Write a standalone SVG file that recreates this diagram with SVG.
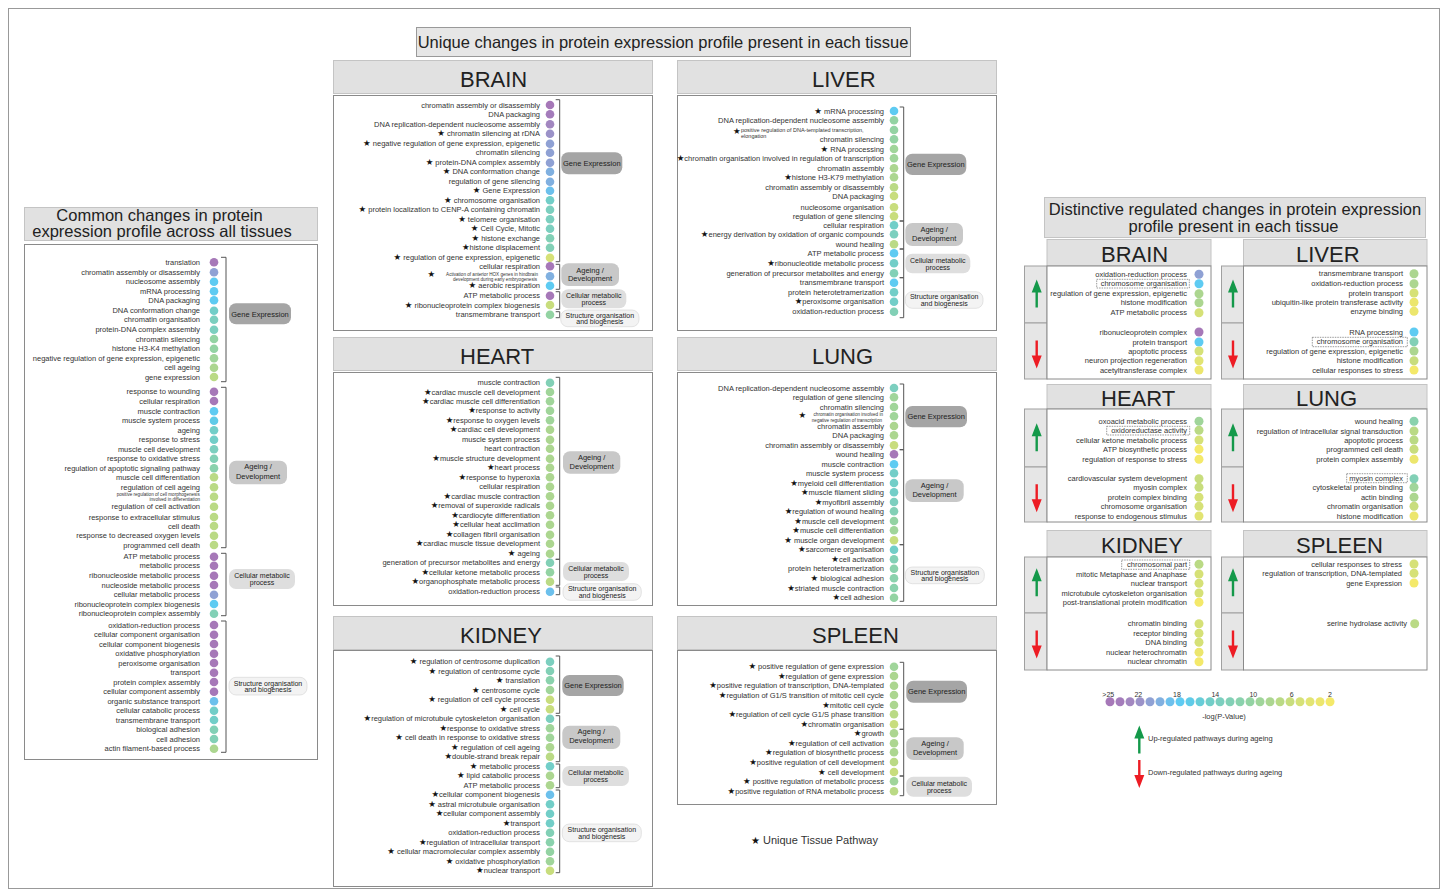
<svg xmlns="http://www.w3.org/2000/svg" width="1447" height="896" viewBox="0 0 1447 896">
<defs>
<style>
.t{font-family:"Liberation Sans",Arial,sans-serif;font-size:7.5px;fill:#333;text-anchor:end}
.sm{font-size:4.6px}
.sm6{font-size:5.5px;text-anchor:start}
.st{font-family:"DejaVu Sans",sans-serif;font-size:8.5px;fill:#111}
.pl{font-family:"Liberation Sans",Arial,sans-serif;font-size:7.5px;fill:#222;text-anchor:middle}
.p7{font-size:7px}
.hd{font-family:"Liberation Sans",Arial,sans-serif;font-size:22px;fill:#222}
.ti{font-family:"Liberation Sans",Arial,sans-serif;font-size:16.5px;fill:#222;text-anchor:middle}
.lg{font-family:"Liberation Sans",Arial,sans-serif;font-size:7.5px;fill:#333}
.hbox{fill:#e1e1e1;stroke:#c4c4c4}
.panel{fill:#fff;stroke:#8a8a8a}
.gcol{fill:#e6e6e6;stroke:#a0a0a0}
.br{fill:none;stroke:#555;stroke-width:1}
.p1{fill:#a5a5a5}.p2{fill:#c8c8c8}.p3{fill:#dedede}.p4{fill:#f3f3f3;stroke:#d4d4d4;stroke-width:0.6}
.dash{fill:none;stroke:#555;stroke-width:0.6;stroke-dasharray:1.5 1}
.up{fill:#14994a}.dn{fill:#ed1c24}
.c1{fill:#a678b8}.c2{fill:#a47cbb}.c3{fill:#a287c0}.c4{fill:#9b92c8}.c5{fill:#8fa1d4}.c6{fill:#80b0e0}.c7{fill:#6cc0ec}.c8{fill:#5ecbf2}.c9{fill:#5fcbe8}.c10{fill:#67cdd8}.c11{fill:#72cec8}.c12{fill:#7ccfbf}.c13{fill:#82d0b6}.c14{fill:#8ad2ad}.c15{fill:#93d3a3}.c16{fill:#a0d59a}.c17{fill:#acd690}.c18{fill:#bada85}.c19{fill:#c8dd7d}.c20{fill:#d6e177}.c21{fill:#e2e472}.c22{fill:#ece66d}.c23{fill:#f4e96a}
</style>
<path id="aup" d="M0,0 L5,13 L1.2,13 L1.2,28 L-1.2,28 L-1.2,13 L-5,13Z"/>
<path id="adn" d="M0,28 L5,15 L1.2,15 L1.2,0 L-1.2,0 L-1.2,15 L-5,15Z"/>
</defs>
<rect x="0" y="0" width="1447" height="896" fill="#fff"/>
<rect x="8.5" y="8.5" width="1431" height="880" fill="none" stroke="#999"/>

<g id="title-unique">
<rect x="416.5" y="27.5" width="494" height="29" fill="#e6e6e6" stroke="#999"/>
<text class="ti" x="663" y="48">Unique changes in protein expression profile present in each tissue</text>
</g>

<g id="common">
<rect class="hbox" x="24.5" y="207.5" width="293" height="33"/>
<text class="ti" x="159.5" y="221">Common changes in protein</text>
<text class="ti" x="162" y="237">expression profile across all tissues</text>
<rect class="panel" x="24.5" y="244.5" width="293" height="515"/>
<g>
<text class="t" x="200" y="265">translation</text><circle class="c1" cx="214" cy="262.3" r="4.3"/>
<text class="t" x="200" y="275">chromatin assembly or disassembly</text><circle class="c5" cx="214" cy="272.3" r="4.3"/>
<text class="t" x="200" y="284.4">nucleosome assembly</text><circle class="c8" cx="214" cy="281.7" r="4.3"/>
<text class="t" x="200" y="294">mRNA processing</text><circle class="c8" cx="214" cy="291.3" r="4.3"/>
<text class="t" x="200" y="303">DNA packaging</text><circle class="c8" cx="214" cy="300.3" r="4.3"/>
<text class="t" x="200" y="313.4">DNA conformation change</text><circle class="c11" cx="214" cy="310.7" r="4.3"/>
<text class="t" x="200" y="322.4">chromatin organisation</text><circle class="c12" cx="214" cy="319.7" r="4.3"/>
<text class="t" x="200" y="332.4">protein-DNA complex assembly</text><circle class="c12" cx="214" cy="329.7" r="4.3"/>
<text class="t" x="200" y="341.7">chromatin silencing</text><circle class="c15" cx="214" cy="339" r="4.3"/>
<text class="t" x="200" y="351.4">histone H3-K4 methylation</text><circle class="c15" cx="214" cy="348.7" r="4.3"/>
<text class="t" x="200" y="361">negative regulation of gene expression, epigenetic</text><circle class="c16" cx="214" cy="358.3" r="4.3"/>
<text class="t" x="200" y="370.4">cell ageing</text><circle class="c17" cx="214" cy="367.7" r="4.3"/>
<text class="t" x="200" y="379.7">gene expression</text><circle class="c18" cx="214" cy="377" r="4.3"/>
<text class="t" x="200" y="394.4">response to wounding</text><circle class="c1" cx="214" cy="391.7" r="4.3"/>
<text class="t" x="200" y="403.7">cellular respiration</text><circle class="c1" cx="214" cy="401" r="4.3"/>
<text class="t" x="200" y="414">muscle contraction</text><circle class="c8" cx="214" cy="411.3" r="4.3"/>
<text class="t" x="200" y="423.4">muscle system process</text><circle class="c9" cx="214" cy="420.7" r="4.3"/>
<text class="t" x="200" y="433">ageing</text><circle class="c11" cx="214" cy="430.3" r="4.3"/>
<text class="t" x="200" y="442.4">response to stress</text><circle class="c11" cx="214" cy="439.7" r="4.3"/>
<text class="t" x="200" y="452">muscle cell development</text><circle class="c12" cx="214" cy="449.3" r="4.3"/>
<text class="t" x="200" y="461.4">response to oxidative stress</text><circle class="c13" cx="214" cy="458.7" r="4.3"/>
<text class="t" x="200" y="471">regulation of apoptotic signaling pathway</text><circle class="c14" cx="214" cy="468.3" r="4.3"/>
<text class="t" x="200" y="480">muscle cell differentiation</text><circle class="c18" cx="214" cy="477.3" r="4.3"/>
<text class="t" x="200" y="490">regulation of cell ageing</text><circle class="c18" cx="214" cy="487.3" r="4.3"/>
<text class="t sm" x="199.7" y="495.8">positive regulation of cell morphogenesis</text>
<text class="t sm" x="200" y="501.4">involved in differentiation</text><circle class="c18" cx="214" cy="496.7" r="4.3"/>
<text class="t" x="200" y="509.4">regulation of cell activation</text><circle class="c18" cx="214" cy="506.7" r="4.3"/>
<text class="t" x="200" y="519.7">response to extracellular stimulus</text><circle class="c18" cx="214" cy="517" r="4.3"/>
<text class="t" x="200" y="528.7">cell death</text><circle class="c18" cx="214" cy="526" r="4.3"/>
<text class="t" x="200" y="538.4">response to decreased oxygen levels</text><circle class="c18" cx="214" cy="535.7" r="4.3"/>
<text class="t" x="200" y="547.7">programmed cell death</text><circle class="c18" cx="214" cy="545" r="4.3"/>
<text class="t" x="200" y="559.4">ATP metabolic process</text><circle class="c1" cx="214" cy="556.7" r="4.3"/>
<text class="t" x="200" y="568.4">metabolic process</text><circle class="c1" cx="214" cy="565.7" r="4.3"/>
<text class="t" x="200" y="578.4">ribonucleoside metabolic process</text><circle class="c1" cx="214" cy="575.7" r="4.3"/>
<text class="t" x="200" y="587.7">nucleoside metabolic process</text><circle class="c1" cx="214" cy="585" r="4.3"/>
<text class="t" x="200" y="597.4">cellular metabolic process</text><circle class="c5" cx="214" cy="594.7" r="4.3"/>
<text class="t" x="200" y="606.7">ribonucleoprotein complex biogenesis</text><circle class="c8" cx="214" cy="604" r="4.3"/>
<text class="t" x="200" y="616.4">ribonucleoprotein complex assembly</text><circle class="c13" cx="214" cy="613.7" r="4.3"/>
<text class="t" x="200" y="627.7">oxidation-reduction process</text><circle class="c1" cx="214" cy="625" r="4.3"/>
<text class="t" x="200" y="637.4">cellular component organisation</text><circle class="c1" cx="214" cy="634.7" r="4.3"/>
<text class="t" x="200" y="646.7">cellular component biogenesis</text><circle class="c1" cx="214" cy="644" r="4.3"/>
<text class="t" x="200" y="656.4">oxidative phosphorylation</text><circle class="c1" cx="214" cy="653.7" r="4.3"/>
<text class="t" x="200" y="665.7">peroxisome organisation</text><circle class="c1" cx="214" cy="663" r="4.3"/>
<text class="t" x="200" y="675.4">transport</text><circle class="c1" cx="214" cy="672.7" r="4.3"/>
<text class="t" x="200" y="684.7">protein complex assembly</text><circle class="c1" cx="214" cy="682" r="4.3"/>
<text class="t" x="200" y="694.4">cellular component assembly</text><circle class="c1" cx="214" cy="691.7" r="4.3"/>
<text class="t" x="200" y="704">organic substance transport</text><circle class="c7" cx="214" cy="701.3" r="4.3"/>
<text class="t" x="200" y="713.4">cellular catabolic process</text><circle class="c11" cx="214" cy="710.7" r="4.3"/>
<text class="t" x="200" y="722.7">transmembrane transport</text><circle class="c11" cx="214" cy="720" r="4.3"/>
<text class="t" x="200" y="732.4">biological adhesion</text><circle class="c13" cx="214" cy="729.7" r="4.3"/>
<text class="t" x="200" y="741.7">cell adhesion</text><circle class="c13" cx="214" cy="739" r="4.3"/>
<text class="t" x="200" y="751.4">actin filament-based process</text><circle class="c17" cx="214" cy="748.7" r="4.3"/>
</g>
<path class="br" d="M221,257.3H226V381.7H221M221,387.3H226V547.7H221M221,553.3H226V615.7H221M221,621H226V752.3H221"/>
<rect class="p1" x="229" y="303.3" width="62" height="21" rx="7"/><text class="pl" x="260" y="316.5">Gene Expression</text>
<rect class="p2" x="229" y="460.7" width="58" height="23.6" rx="7"/><text class="pl" x="258" y="468.7">Ageing /</text><text class="pl" x="258" y="478.7">Development</text>
<rect class="p3" x="229" y="569" width="66" height="20" rx="7"/><text class="pl p7" x="262" y="578.3">Cellular metabolic</text><text class="pl p7" x="262" y="585.1">process</text>
<rect class="p4" x="229" y="677.3" width="78" height="17.7" rx="7"/><text class="pl p7" x="268" y="685.5">Structure organisation</text><text class="pl p7" x="268" y="692.3">and biogenesis</text>
</g>

<g id="brain">
<rect class="hbox" x="333.5" y="60.5" width="319" height="33"/>
<text class="hd" x="460" y="86.5">BRAIN</text>
<rect class="panel" x="333.5" y="95.5" width="319" height="235"/>
<text class="t" x="540" y="107.7">chromatin assembly or disassembly</text><circle class="c1" cx="550" cy="105" r="4.3"/>
<text class="t" x="540" y="117">DNA packaging</text><circle class="c2" cx="550" cy="114.3" r="4.3"/>
<text class="t" x="540" y="127">DNA replication-dependent nucleosome assembly</text><circle class="c3" cx="550" cy="124.3" r="4.3"/>
<text class="t" x="540" y="136.4"><tspan class="st">★</tspan> chromatin silencing at rDNA</text><circle class="c4" cx="550" cy="133.7" r="4.3"/>
<text class="t" x="540" y="146.4"><tspan class="st">★</tspan> negative regulation of gene expression, epigenetic</text><circle class="c5" cx="550" cy="143.7" r="4.3"/>
<text class="t" x="540" y="155.4">chromatin silencing</text><circle class="c5" cx="550" cy="152.7" r="4.3"/>
<text class="t" x="540" y="165.4"><tspan class="st">★</tspan> protein-DNA complex assembly</text><circle class="c5" cx="550" cy="162.7" r="4.3"/>
<text class="t" x="540" y="174.4"><tspan class="st">★</tspan> DNA conformation change</text><circle class="c6" cx="550" cy="171.7" r="4.3"/>
<text class="t" x="540" y="184.4">regulation of gene silencing</text><circle class="c6" cx="550" cy="181.7" r="4.3"/>
<text class="t" x="540" y="193.4"><tspan class="st">★</tspan> Gene Expression</text><circle class="c7" cx="550" cy="190.7" r="4.3"/>
<text class="t" x="540" y="203"><tspan class="st">★</tspan> chromosome organisation</text><circle class="c11" cx="550" cy="200.3" r="4.3"/>
<text class="t" x="540" y="212.4"><tspan class="st">★</tspan> protein localization to CENP-A containing chromatin</text><circle class="c12" cx="550" cy="209.7" r="4.3"/>
<text class="t" x="540" y="222"><tspan class="st">★</tspan> telomere organisation</text><circle class="c12" cx="550" cy="219.3" r="4.3"/>
<text class="t" x="540" y="231.4"><tspan class="st">★</tspan> Cell Cycle, Mitotic</text><circle class="c12" cx="550" cy="228.7" r="4.3"/>
<text class="t" x="540" y="241"><tspan class="st">★</tspan> histone exchange</text><circle class="c13" cx="550" cy="238.3" r="4.3"/>
<text class="t" x="540" y="250.4"><tspan class="st">★</tspan>histone displacement</text><circle class="c13" cx="550" cy="247.7" r="4.3"/>
<text class="t" x="540" y="260.4"><tspan class="st">★</tspan> regulation of gene expression, epigenetic</text><circle class="c20" cx="550" cy="257.7" r="4.3"/>
<text class="t" x="540" y="269">cellular respiration</text><circle class="c1" cx="550" cy="266.3" r="4.3"/>
<text class="st" x="427.5" y="277">★</text>
<text class="t sm" x="538" y="275.8">Activation of anterior HOX genes in hindbrain</text>
<text class="t sm" x="537" y="281.1">development during early embryogenesis</text><circle class="c6" cx="550" cy="276.3" r="4.3"/>
<text class="t" x="540" y="288.4"><tspan class="st">★</tspan> aerobic respiration</text><circle class="c8" cx="550" cy="285.7" r="4.3"/>
<text class="t" x="540" y="298.4">ATP metabolic process</text><circle class="c1" cx="550" cy="295.7" r="4.3"/>
<text class="t" x="540" y="307.7"><tspan class="st">★</tspan> ribonucleoprotein complex biogenesis</text><circle class="c19" cx="550" cy="305" r="4.3"/>
<text class="t" x="540" y="317.4">transmembrane transport</text><circle class="c15" cx="550" cy="314.7" r="4.3"/>
<path class="br" d="M555.7,99.7H559.7V261.7H555.7M555.7,264.3H559.7V289.3H555.7M555.7,291.7H559.7V309.3H555.7M555.7,311.7H559.7V317.7H555.7"/>
<rect class="p1" x="561.3" y="152.3" width="61" height="22" rx="7"/><text class="pl" x="591.8" y="166">Gene Expression</text>
<rect class="p2" x="561.3" y="263.3" width="57.7" height="22.7" rx="7"/><text class="pl" x="590" y="272.7">Ageing /</text><text class="pl" x="590" y="281">Development</text>
<rect class="p3" x="561.3" y="289.3" width="65" height="19" rx="7"/><text class="pl p7" x="593.8" y="298.1">Cellular metabolic</text><text class="pl p7" x="593.8" y="304.9">process</text>
<rect class="p4" x="560.7" y="310" width="78.3" height="16.7" rx="7"/><text class="pl p7" x="599.8" y="317.6">Structure organisation</text><text class="pl p7" x="599.8" y="324.4">and biogenesis</text>
</g>

<g id="liver">
<rect class="hbox" x="677.5" y="60.5" width="319" height="33"/>
<text class="hd" x="812" y="86.5">LIVER</text>
<rect class="panel" x="677.5" y="95.5" width="319" height="235"/>
<text class="t" x="884" y="113.7"><tspan class="st">★</tspan> mRNA processing</text><circle class="c8" cx="894" cy="111" r="4.3"/>
<text class="t" x="884" y="123">DNA replication-dependent nucleosome assembly</text><circle class="c15" cx="894" cy="120.3" r="4.3"/>
<text class="st" x="733" y="133.5">★</text>
<text class="t sm6" x="741" y="131.8">positive regulation of DNA-templated transcription,</text>
<text class="t sm6" x="741" y="137.6">elongation</text><circle class="c15" cx="894" cy="130" r="4.3"/>
<text class="t" x="884" y="142">chromatin silencing</text><circle class="c15" cx="894" cy="139.3" r="4.3"/>
<text class="t" x="884" y="151.7"><tspan class="st">★</tspan> RNA processing</text><circle class="c16" cx="894" cy="149" r="4.3"/>
<text class="t" x="884" y="161"><tspan class="st">★</tspan>chromatin organisation involved in regulation of transcription</text><circle class="c16" cx="894" cy="158.3" r="4.3"/>
<text class="t" x="884" y="171">chromatin assembly</text><circle class="c17" cx="894" cy="168.3" r="4.3"/>
<text class="t" x="884" y="180"><tspan class="st">★</tspan>histone H3-K79 methylation</text><circle class="c17" cx="894" cy="177.3" r="4.3"/>
<text class="t" x="884" y="190">chromatin assembly or disassembly</text><circle class="c18" cx="894" cy="187.3" r="4.3"/>
<text class="t" x="884" y="198.7">DNA packaging</text><circle class="c19" cx="894" cy="196" r="4.3"/>
<text class="t" x="884" y="210">nucleosome organisation</text><circle class="c19" cx="894" cy="207.3" r="4.3"/>
<text class="t" x="884" y="219">regulation of gene silencing</text><circle class="c19" cx="894" cy="216.3" r="4.3"/>
<text class="t" x="884" y="228">cellular respiration</text><circle class="c11" cx="894" cy="225.3" r="4.3"/>
<text class="t" x="884" y="237"><tspan class="st">★</tspan>energy derivation by oxidation of organic compounds</text><circle class="c12" cx="894" cy="234.3" r="4.3"/>
<text class="t" x="884" y="247">wound healing</text><circle class="c18" cx="894" cy="244.3" r="4.3"/>
<text class="t" x="884" y="256">ATP metabolic process</text><circle class="c8" cx="894" cy="253.3" r="4.3"/>
<text class="t" x="884" y="266"><tspan class="st">★</tspan>ribonucleotide metabolic process</text><circle class="c11" cx="894" cy="263.3" r="4.3"/>
<text class="t" x="884" y="276">generation of precursor metabolites and energy</text><circle class="c13" cx="894" cy="273.3" r="4.3"/>
<text class="t" x="884" y="285.4">transmembrane transport</text><circle class="c8" cx="894" cy="282.7" r="4.3"/>
<text class="t" x="884" y="295">protein heterotetramerization</text><circle class="c11" cx="894" cy="292.3" r="4.3"/>
<text class="t" x="884" y="304.4"><tspan class="st">★</tspan>peroxisome organisation</text><circle class="c11" cx="894" cy="301.7" r="4.3"/>
<text class="t" x="884" y="314.4">oxidation-reduction process</text><circle class="c13" cx="894" cy="311.7" r="4.3"/>
<path class="br" d="M899.7,107H903.7V221H899.7M899.7,221H903.7V249H899.7M899.7,249H903.7V277.7H899.7M899.7,277.7H903.7V317.7H899.7"/>
<rect class="p1" x="905.3" y="153.7" width="61" height="21.3" rx="7"/><text class="pl" x="935.8" y="167">Gene Expression</text>
<rect class="p2" x="905.3" y="223" width="57.7" height="23" rx="7"/><text class="pl" x="934.2" y="232.4">Ageing /</text><text class="pl" x="934.2" y="241">Development</text>
<rect class="p3" x="905.3" y="253.7" width="65" height="19.6" rx="7"/><text class="pl p7" x="937.8" y="262.8">Cellular metabolic</text><text class="pl p7" x="937.8" y="269.6">process</text>
<rect class="p4" x="905.3" y="291.7" width="77.7" height="16.6" rx="7"/><text class="pl p7" x="944.2" y="299.3">Structure organisation</text><text class="pl p7" x="944.2" y="306.1">and biogenesis</text>
</g>

<g id="heart">
<rect class="hbox" x="333.5" y="337.5" width="319" height="33"/>
<text class="hd" x="460" y="364">HEART</text>
<rect class="panel" x="333.5" y="372.5" width="319" height="233"/>
<text class="t" x="540" y="385.4">muscle contraction</text><circle class="c13" cx="550" cy="382.7" r="4.3"/>
<text class="t" x="540" y="394.7"><tspan class="st">★</tspan>cardiac muscle cell development</text><circle class="c16" cx="550" cy="392" r="4.3"/>
<text class="t" x="540" y="404"><tspan class="st">★</tspan>cardiac muscle cell differentiation</text><circle class="c16" cx="550" cy="401.3" r="4.3"/>
<text class="t" x="540" y="413.4"><tspan class="st">★</tspan>response to activity</text><circle class="c16" cx="550" cy="410.7" r="4.3"/>
<text class="t" x="540" y="423"><tspan class="st">★</tspan>response to oxygen levels</text><circle class="c16" cx="550" cy="420.3" r="4.3"/>
<text class="t" x="540" y="432.4"><tspan class="st">★</tspan>cardiac cell development</text><circle class="c17" cx="550" cy="429.7" r="4.3"/>
<text class="t" x="540" y="442.4">muscle system process</text><circle class="c17" cx="550" cy="439.7" r="4.3"/>
<text class="t" x="540" y="451.4">heart contraction</text><circle class="c17" cx="550" cy="448.7" r="4.3"/>
<text class="t" x="540" y="461.4"><tspan class="st">★</tspan>muscle structure development</text><circle class="c17" cx="550" cy="458.7" r="4.3"/>
<text class="t" x="540" y="470.4"><tspan class="st">★</tspan>heart process</text><circle class="c17" cx="550" cy="467.7" r="4.3"/>
<text class="t" x="540" y="480"><tspan class="st">★</tspan>response to hyperoxia</text><circle class="c17" cx="550" cy="477.3" r="4.3"/>
<text class="t" x="540" y="489.4">cellular respiration</text><circle class="c17" cx="550" cy="486.7" r="4.3"/>
<text class="t" x="540" y="499"><tspan class="st">★</tspan>cardiac muscle contraction</text><circle class="c17" cx="550" cy="496.3" r="4.3"/>
<text class="t" x="540" y="508.4"><tspan class="st">★</tspan>removal of superoxide radicals</text><circle class="c17" cx="550" cy="505.7" r="4.3"/>
<text class="t" x="540" y="518"><tspan class="st">★</tspan>cardiocyte differentiation</text><circle class="c17" cx="550" cy="515.3" r="4.3"/>
<text class="t" x="540" y="527.4"><tspan class="st">★</tspan>cellular heat acclimation</text><circle class="c17" cx="550" cy="524.7" r="4.3"/>
<text class="t" x="540" y="537.4"><tspan class="st">★</tspan>collagen fibril organisation</text><circle class="c17" cx="550" cy="534.7" r="4.3"/>
<text class="t" x="540" y="546.4"><tspan class="st">★</tspan>cardiac muscle tissue development</text><circle class="c17" cx="550" cy="543.7" r="4.3"/>
<text class="t" x="540" y="556.4"><tspan class="st">★</tspan> ageing</text><circle class="c17" cx="550" cy="553.7" r="4.3"/>
<text class="t" x="540" y="565.4">generation of precursor metabolites and energy</text><circle class="c13" cx="550" cy="562.7" r="4.3"/>
<text class="t" x="540" y="575"><tspan class="st">★</tspan>cellular ketone metabolic process</text><circle class="c15" cx="550" cy="572.3" r="4.3"/>
<text class="t" x="540" y="584.4"><tspan class="st">★</tspan>organophosphate metabolic process</text><circle class="c18" cx="550" cy="581.7" r="4.3"/>
<text class="t" x="540" y="594.4">oxidation-reduction process</text><circle class="c7" cx="550" cy="591.7" r="4.3"/>
<path class="br" d="M555.7,377.3H559.7V559.3H555.7M555.7,559.3H559.7V585.3H555.7M555.7,587H559.7V594.7H555.7"/>
<rect class="p2" x="563" y="451.3" width="57.3" height="22.4" rx="7"/><text class="pl" x="591.7" y="460.4">Ageing /</text><text class="pl" x="591.7" y="469">Development</text>
<rect class="p3" x="563" y="562" width="66" height="19" rx="7"/><text class="pl p7" x="596" y="570.8">Cellular metabolic</text><text class="pl p7" x="596" y="577.6">process</text>
<rect class="p4" x="563" y="583.7" width="78.3" height="16.6" rx="7"/><text class="pl p7" x="602.2" y="591.3">Structure organisation</text><text class="pl p7" x="602.2" y="598.1">and biogenesis</text>
</g>

<g id="lung">
<rect class="hbox" x="677.5" y="337.5" width="319" height="33"/>
<text class="hd" x="812" y="364">LUNG</text>
<rect class="panel" x="677.5" y="372.5" width="319" height="233"/>
<text class="t" x="884" y="390.7">DNA replication-dependent nucleosome assembly</text><circle class="c12" cx="894" cy="388" r="4.3"/>
<text class="t" x="884" y="400">regulation of gene silencing</text><circle class="c16" cx="894" cy="397.3" r="4.3"/>
<text class="t" x="884" y="409.7">chromatin silencing</text><circle class="c16" cx="894" cy="407" r="4.3"/>
<text class="st" x="798.5" y="417.5">★</text>
<text class="t sm" x="883" y="416.2">chromatin organisation involved in</text>
<text class="t sm" x="882" y="421.5">negative regulation of transcription</text><circle class="c16" cx="894" cy="416.3" r="4.3"/>
<text class="t" x="884" y="428.7">chromatin assembly</text><circle class="c17" cx="894" cy="426" r="4.3"/>
<text class="t" x="884" y="438">DNA packaging</text><circle class="c17" cx="894" cy="435.3" r="4.3"/>
<text class="t" x="884" y="448">chromatin assembly or disassembly</text><circle class="c19" cx="894" cy="445.3" r="4.3"/>
<text class="t" x="884" y="457">wound healing</text><circle class="c1" cx="894" cy="454.3" r="4.3"/>
<text class="t" x="884" y="467">muscle contraction</text><circle class="c8" cx="894" cy="464.3" r="4.3"/>
<text class="t" x="884" y="476">muscle system process</text><circle class="c11" cx="894" cy="473.3" r="4.3"/>
<text class="t" x="884" y="485.7"><tspan class="st">★</tspan>myeloid cell differentiation</text><circle class="c11" cx="894" cy="483" r="4.3"/>
<text class="t" x="884" y="495"><tspan class="st">★</tspan>muscle filament sliding</text><circle class="c11" cx="894" cy="492.3" r="4.3"/>
<text class="t" x="884" y="504.7"><tspan class="st">★</tspan>myofibril assembly</text><circle class="c12" cx="894" cy="502" r="4.3"/>
<text class="t" x="884" y="514"><tspan class="st">★</tspan>regulation of wound healing</text><circle class="c13" cx="894" cy="511.3" r="4.3"/>
<text class="t" x="884" y="523.7"><tspan class="st">★</tspan>muscle cell development</text><circle class="c15" cx="894" cy="521" r="4.3"/>
<text class="t" x="884" y="533"><tspan class="st">★</tspan>muscle cell differentiation</text><circle class="c16" cx="894" cy="530.3" r="4.3"/>
<text class="t" x="884" y="543"><tspan class="st">★</tspan> muscle organ development</text><circle class="c19" cx="894" cy="540.3" r="4.3"/>
<text class="t" x="884" y="552.4"><tspan class="st">★</tspan>sarcomere organisation</text><circle class="c11" cx="894" cy="549.7" r="4.3"/>
<text class="t" x="884" y="562"><tspan class="st">★</tspan>cell activation</text><circle class="c13" cx="894" cy="559.3" r="4.3"/>
<text class="t" x="884" y="571.4">protein heterotetramerization</text><circle class="c14" cx="894" cy="568.7" r="4.3"/>
<text class="t" x="884" y="581"><tspan class="st">★</tspan> biological adhesion</text><circle class="c14" cx="894" cy="578.3" r="4.3"/>
<text class="t" x="884" y="590.7"><tspan class="st">★</tspan>striated muscle contraction</text><circle class="c14" cx="894" cy="588" r="4.3"/>
<text class="t" x="884" y="600.4"><tspan class="st">★</tspan>cell adhesion</text><circle class="c15" cx="894" cy="597.7" r="4.3"/>
<path class="br" d="M899.7,384H903.7V449.7H899.7M899.7,449.7H903.7V544.7H899.7M899.7,544.7H903.7V601.3H899.7"/>
<rect class="p1" x="905.3" y="406" width="61.7" height="21.3" rx="7"/><text class="pl" x="936.2" y="419.3">Gene Expression</text>
<rect class="p2" x="905.3" y="479.3" width="58.4" height="22.7" rx="7"/><text class="pl" x="934.5" y="488">Ageing /</text><text class="pl" x="934.5" y="497">Development</text>
<rect class="p4" x="905.3" y="567" width="79" height="16.7" rx="7"/><text class="pl p7" x="944.8" y="574.6">Structure organisation</text><text class="pl p7" x="944.8" y="581.4">and biogenesis</text>
</g>

<g id="kidney">
<rect class="hbox" x="333.5" y="616.5" width="319" height="33"/>
<text class="hd" x="460" y="643">KIDNEY</text>
<rect class="panel" x="333.5" y="650.5" width="319" height="236"/>
<text class="t" x="540" y="664.4"><tspan class="st">★</tspan> regulation of centrosome duplication</text><circle class="c12" cx="550" cy="661.7" r="4.3"/>
<text class="t" x="540" y="673.7"><tspan class="st">★</tspan> regulation of centrosome cycle</text><circle class="c13" cx="550" cy="671" r="4.3"/>
<text class="t" x="540" y="683"><tspan class="st">★</tspan> translation</text><circle class="c14" cx="550" cy="680.3" r="4.3"/>
<text class="t" x="540" y="692.7"><tspan class="st">★</tspan> centrosome cycle</text><circle class="c16" cx="550" cy="690" r="4.3"/>
<text class="t" x="540" y="702.4"><tspan class="st">★</tspan> regulation of cell cycle process</text><circle class="c19" cx="550" cy="699.7" r="4.3"/>
<text class="t" x="540" y="712"><tspan class="st">★</tspan> cell cycle</text><circle class="c19" cx="550" cy="709.3" r="4.3"/>
<text class="t" x="540" y="721.4"><tspan class="st">★</tspan>regulation of microtubule cytoskeleton organisation</text><circle class="c12" cx="550" cy="718.7" r="4.3"/>
<text class="t" x="540" y="731"><tspan class="st">★</tspan>response to oxidative stress</text><circle class="c16" cx="550" cy="728.3" r="4.3"/>
<text class="t" x="540" y="740.4"><tspan class="st">★</tspan> cell death in response to oxidative stress</text><circle class="c16" cx="550" cy="737.7" r="4.3"/>
<text class="t" x="540" y="750"><tspan class="st">★</tspan> regulation of cell ageing</text><circle class="c17" cx="550" cy="747.3" r="4.3"/>
<text class="t" x="540" y="759.4"><tspan class="st">★</tspan>double-strand break repair</text><circle class="c18" cx="550" cy="756.7" r="4.3"/>
<text class="t" x="540" y="769"><tspan class="st">★</tspan> metabolic process</text><circle class="c11" cx="550" cy="766.3" r="4.3"/>
<text class="t" x="540" y="778.4"><tspan class="st">★</tspan> lipid catabolic process</text><circle class="c17" cx="550" cy="775.7" r="4.3"/>
<text class="t" x="540" y="788">ATP metabolic process</text><circle class="c17" cx="550" cy="785.3" r="4.3"/>
<text class="t" x="540" y="797.4"><tspan class="st">★</tspan>cellular component biogenesis</text><circle class="c7" cx="550" cy="794.7" r="4.3"/>
<text class="t" x="540" y="807"><tspan class="st">★</tspan> astral microtubule organisation</text><circle class="c11" cx="550" cy="804.3" r="4.3"/>
<text class="t" x="540" y="816.4"><tspan class="st">★</tspan>cellular component assembly</text><circle class="c11" cx="550" cy="813.7" r="4.3"/>
<text class="t" x="540" y="826"><tspan class="st">★</tspan>transport</text><circle class="c11" cx="550" cy="823.3" r="4.3"/>
<text class="t" x="540" y="835.4">oxidation-reduction process</text><circle class="c13" cx="550" cy="832.7" r="4.3"/>
<text class="t" x="540" y="845"><tspan class="st">★</tspan>regulation of intracellular transport</text><circle class="c14" cx="550" cy="842.3" r="4.3"/>
<text class="t" x="540" y="854.4"><tspan class="st">★</tspan> cellular macromolecular complex assembly</text><circle class="c15" cx="550" cy="851.7" r="4.3"/>
<text class="t" x="540" y="864"><tspan class="st">★</tspan> oxidative phosphorylation</text><circle class="c16" cx="550" cy="861.3" r="4.3"/>
<text class="t" x="540" y="873.4"><tspan class="st">★</tspan>nuclear transport</text><circle class="c19" cx="550" cy="870.7" r="4.3"/>
<path class="br" d="M555.7,656H559.7V713.3H555.7M555.7,715.7H559.7V761.7H555.7M555.7,764H559.7V787.7H555.7M555.7,790H559.7V872.7H555.7"/>
<rect class="p1" x="562.3" y="675" width="61.4" height="21" rx="7"/><text class="pl" x="593" y="688.2">Gene Expression</text>
<rect class="p2" x="562.3" y="725.7" width="58" height="23.3" rx="7"/><text class="pl" x="591.3" y="734.4">Ageing /</text><text class="pl" x="591.3" y="742.7">Development</text>
<rect class="p3" x="562.3" y="766" width="66.7" height="20" rx="7"/><text class="pl p7" x="595.7" y="775.3">Cellular metabolic</text><text class="pl p7" x="595.7" y="782.1">process</text>
<rect class="p4" x="562.3" y="824" width="79" height="17.7" rx="7"/><text class="pl p7" x="601.8" y="832.1">Structure organisation</text><text class="pl p7" x="601.8" y="838.9">and biogenesis</text>
</g>

<g id="spleen">
<rect class="hbox" x="677.5" y="616.5" width="319" height="33"/>
<text class="hd" x="812" y="643">SPLEEN</text>
<rect class="panel" x="677.5" y="650.5" width="319" height="154"/>
<text class="t" x="884" y="669.4"><tspan class="st">★</tspan> positive regulation of gene expression</text><circle class="c16" cx="894" cy="666.7" r="4.3"/>
<text class="t" x="884" y="678.7"><tspan class="st">★</tspan>regulation of gene expression</text><circle class="c17" cx="894" cy="676" r="4.3"/>
<text class="t" x="884" y="688.4"><tspan class="st">★</tspan>positive regulation of transcription, DNA-templated</text><circle class="c17" cx="894" cy="685.7" r="4.3"/>
<text class="t" x="884" y="697.7"><tspan class="st">★</tspan>regulation of G1/S transition of mitotic cell cycle</text><circle class="c17" cx="894" cy="695" r="4.3"/>
<text class="t" x="884" y="707.7"><tspan class="st">★</tspan>mitotic cell cycle</text><circle class="c17" cx="894" cy="705" r="4.3"/>
<text class="t" x="884" y="717"><tspan class="st">★</tspan>regulation of cell cycle G1/S phase transition</text><circle class="c18" cx="894" cy="714.3" r="4.3"/>
<text class="t" x="884" y="727"><tspan class="st">★</tspan>chromatin organisation</text><circle class="c19" cx="894" cy="724.3" r="4.3"/>
<text class="t" x="884" y="736"><tspan class="st">★</tspan>growth</text><circle class="c17" cx="894" cy="733.3" r="4.3"/>
<text class="t" x="884" y="746"><tspan class="st">★</tspan>regulation of cell activation</text><circle class="c17" cx="894" cy="743.3" r="4.3"/>
<text class="t" x="884" y="755"><tspan class="st">★</tspan>regulation of biosynthetic process</text><circle class="c17" cx="894" cy="752.3" r="4.3"/>
<text class="t" x="884" y="764.7"><tspan class="st">★</tspan>positive regulation of cell development</text><circle class="c18" cx="894" cy="762" r="4.3"/>
<text class="t" x="884" y="774.7"><tspan class="st">★</tspan> cell development</text><circle class="c19" cx="894" cy="772" r="4.3"/>
<text class="t" x="884" y="784"><tspan class="st">★</tspan> positive regulation of metabolic process</text><circle class="c16" cx="894" cy="781.3" r="4.3"/>
<text class="t" x="884" y="794"><tspan class="st">★</tspan>positive regulation of RNA metabolic process</text><circle class="c18" cx="894" cy="791.3" r="4.3"/>
<path class="br" d="M899.7,662.3H903.7V729.3H899.7M899.7,729.3H903.7V776H899.7M899.7,776H903.7V795.7H899.7"/>
<rect class="p1" x="906.3" y="680.7" width="60.7" height="22" rx="7"/><text class="pl" x="936.7" y="694.4">Gene Expression</text>
<rect class="p2" x="906.3" y="737.3" width="57.4" height="22.7" rx="7"/><text class="pl" x="935" y="746">Ageing /</text><text class="pl" x="935" y="755">Development</text>
<rect class="p3" x="906.3" y="776.7" width="65.7" height="20" rx="7"/><text class="pl p7" x="939.2" y="786">Cellular metabolic</text><text class="pl p7" x="939.2" y="792.8">process</text>
</g>

<g id="unique-legend">
<text class="st" x="751" y="843.5" style="font-size:10px">★</text>
<text x="763" y="843.5" style="font-family:'Liberation Sans',Arial,sans-serif;font-size:11px;fill:#333">Unique Tissue Pathway</text>
</g>

<g id="distinctive-title">
<rect class="hbox" x="1044.5" y="197.5" width="381" height="40"/>
<text class="ti" x="1235" y="215">Distinctive regulated changes in protein expression</text>
<text class="ti" x="1233.5" y="231.5">profile present in each tissue</text>
</g>

<g id="d-brain">
<rect class="hbox" x="1047" y="239.5" width="164" height="26"/>
<text class="hd" x="1101" y="262">BRAIN</text>
<rect class="gcol" x="1024.5" y="266" width="22.5" height="57"/><rect class="gcol" x="1024.5" y="323" width="22.5" height="56"/>
<rect class="panel" x="1047" y="266" width="164" height="113"/>
<use href="#aup" class="up" x="1036.7" y="279.5"/><use href="#adn" class="dn" x="1036.7" y="340.5"/>
<text class="t" x="1187" y="277">oxidation-reduction process</text><circle class="c5" cx="1199" cy="274.3" r="4.5"/>
<rect class="dash" x="1096.7" y="279.3" width="92.6" height="8.7"/>
<text class="t" x="1187" y="286.4">chromosome organisation</text><circle class="c8" cx="1199" cy="283.7" r="4.5"/>
<text class="t" x="1187" y="296.4">regulation of gene expression, epigenetic</text><circle class="c17" cx="1199" cy="293.7" r="4.5"/>
<text class="t" x="1187" y="305.4">histone modification</text><circle class="c17" cx="1199" cy="302.7" r="4.5"/>
<text class="t" x="1187" y="315.4">ATP metabolic process</text><circle class="c20" cx="1199" cy="312.7" r="4.5"/>
<text class="t" x="1187" y="334.7">ribonucleoprotein complex</text><circle class="c1" cx="1199" cy="332" r="4.5"/>
<text class="t" x="1187" y="344.7">protein transport</text><circle class="c8" cx="1199" cy="342" r="4.5"/>
<text class="t" x="1187" y="353.7">apoptotic process</text><circle class="c20" cx="1199" cy="351" r="4.5"/>
<text class="t" x="1187" y="363.4">neuron projection regeneration</text><circle class="c21" cx="1199" cy="360.7" r="4.5"/>
<text class="t" x="1187" y="372.7">acetyltransferase complex</text><circle class="c22" cx="1199" cy="370" r="4.5"/>
</g>

<g id="d-liver">
<rect class="hbox" x="1243.5" y="239.5" width="183.5" height="26"/>
<text class="hd" x="1296" y="262">LIVER</text>
<rect class="gcol" x="1221.5" y="266" width="22" height="57"/><rect class="gcol" x="1221.5" y="323" width="22" height="56"/>
<rect class="panel" x="1243.5" y="266" width="183.5" height="113"/>
<use href="#aup" class="up" x="1233" y="279.5"/><use href="#adn" class="dn" x="1233" y="340.5"/>
<text class="t" x="1403" y="276.4">transmembrane transport</text><circle class="c17" cx="1414" cy="273.7" r="4.5"/>
<text class="t" x="1403" y="286.4">oxidation-reduction process</text><circle class="c17" cx="1414" cy="283.7" r="4.5"/>
<text class="t" x="1403" y="295.7">protein transport</text><circle class="c20" cx="1414" cy="293" r="4.5"/>
<text class="t" x="1403" y="305">ubiquitin-like protein transferase activity</text><circle class="c22" cx="1414" cy="302.3" r="4.5"/>
<text class="t" x="1403" y="314">enzyme binding</text><circle class="c22" cx="1414" cy="311.3" r="4.5"/>
<text class="t" x="1403" y="334.7">RNA processing</text><circle class="c8" cx="1414" cy="332" r="4.5"/>
<rect class="dash" x="1312.3" y="337.3" width="95" height="9.4"/>
<text class="t" x="1403" y="344.4">chromosome organisation</text><circle class="c13" cx="1414" cy="341.7" r="4.5"/>
<text class="t" x="1403" y="353.7">regulation of gene expression, epigenetic</text><circle class="c17" cx="1414" cy="351" r="4.5"/>
<text class="t" x="1403" y="363.4">histone modification</text><circle class="c19" cx="1414" cy="360.7" r="4.5"/>
<text class="t" x="1403" y="372.7">cellular responses to stress</text><circle class="c23" cx="1414" cy="370" r="4.5"/>
</g>

<g id="d-heart">
<rect class="hbox" x="1047" y="384.5" width="164" height="24"/>
<text class="hd" x="1101" y="406">HEART</text>
<rect class="gcol" x="1024.5" y="409" width="22.5" height="58"/><rect class="gcol" x="1024.5" y="467" width="22.5" height="55"/>
<rect class="panel" x="1047" y="409" width="164" height="113"/>
<use href="#aup" class="up" x="1036.7" y="423.3"/><use href="#adn" class="dn" x="1036.7" y="484.3"/>
<text class="t" x="1187" y="424">oxoacid metabolic process</text><circle class="c16" cx="1199" cy="421.3" r="4.5"/>
<rect class="dash" x="1106.7" y="426.3" width="83" height="8.7"/>
<text class="t" x="1187" y="433">oxidoreductase activity</text><circle class="c18" cx="1199" cy="430.3" r="4.5"/>
<text class="t" x="1187" y="442.7">cellular ketone metabolic process</text><circle class="c20" cx="1199" cy="440" r="4.5"/>
<text class="t" x="1187" y="452">ATP biosynthetic process</text><circle class="c23" cx="1199" cy="449.3" r="4.5"/>
<text class="t" x="1187" y="462">regulation of response to stress</text><circle class="c23" cx="1199" cy="459.3" r="4.5"/>
<text class="t" x="1187" y="481.4">cardiovascular system development</text><circle class="c19" cx="1199" cy="478.7" r="4.5"/>
<text class="t" x="1187" y="490">myosin complex</text><circle class="c19" cx="1199" cy="487.3" r="4.5"/>
<text class="t" x="1187" y="500">protein complex binding</text><circle class="c20" cx="1199" cy="497.3" r="4.5"/>
<text class="t" x="1187" y="509">chromosome organisation</text><circle class="c20" cx="1199" cy="506.3" r="4.5"/>
<text class="t" x="1187" y="518.7">response to endogenous stimulus</text><circle class="c21" cx="1199" cy="516" r="4.5"/>
</g>

<g id="d-lung">
<rect class="hbox" x="1243.5" y="384.5" width="183.5" height="24"/>
<text class="hd" x="1296" y="406">LUNG</text>
<rect class="gcol" x="1221.5" y="409" width="22" height="58"/><rect class="gcol" x="1221.5" y="467" width="22" height="55"/>
<rect class="panel" x="1243.5" y="409" width="183.5" height="113"/>
<use href="#aup" class="up" x="1233" y="423.3"/><use href="#adn" class="dn" x="1233" y="484.3"/>
<text class="t" x="1403" y="424">wound healing</text><circle class="c14" cx="1414" cy="421.3" r="4.5"/>
<text class="t" x="1403" y="433.7">regulation of intracellular signal transduction</text><circle class="c18" cx="1414" cy="431" r="4.5"/>
<text class="t" x="1403" y="442.7">apoptotic process</text><circle class="c18" cx="1414" cy="440" r="4.5"/>
<text class="t" x="1403" y="452">programmed cell death</text><circle class="c19" cx="1414" cy="449.3" r="4.5"/>
<text class="t" x="1403" y="462">protein complex assembly</text><circle class="c22" cx="1414" cy="459.3" r="4.5"/>
<rect class="dash" x="1346.7" y="473.7" width="60.6" height="9"/>
<text class="t" x="1403" y="481.4">myosin complex</text><circle class="c13" cx="1414" cy="478.7" r="4.5"/>
<text class="t" x="1403" y="490">cytoskeletal protein binding</text><circle class="c16" cx="1414" cy="487.3" r="4.5"/>
<text class="t" x="1403" y="500">actin binding</text><circle class="c17" cx="1414" cy="497.3" r="4.5"/>
<text class="t" x="1403" y="509">chromatin organisation</text><circle class="c19" cx="1414" cy="506.3" r="4.5"/>
<text class="t" x="1403" y="518.7">histone modification</text><circle class="c22" cx="1414" cy="516" r="4.5"/>
</g>

<g id="d-kidney">
<rect class="hbox" x="1047" y="530.5" width="164" height="26"/>
<text class="hd" x="1101" y="552.5">KIDNEY</text>
<rect class="gcol" x="1024.5" y="557" width="22.5" height="56"/><rect class="gcol" x="1024.5" y="613" width="22.5" height="57"/>
<rect class="panel" x="1047" y="557" width="164" height="113"/>
<use href="#aup" class="up" x="1036.7" y="568.3"/><use href="#adn" class="dn" x="1036.7" y="630.5"/>
<rect class="dash" x="1121.7" y="560" width="68" height="9.3"/>
<text class="t" x="1187" y="567">chromosomal part</text><circle class="c18" cx="1199" cy="564.3" r="4.5"/>
<text class="t" x="1187" y="576.7">mitotic Metaphase and Anaphase</text><circle class="c20" cx="1199" cy="574" r="4.5"/>
<text class="t" x="1187" y="586">nuclear transport</text><circle class="c20" cx="1199" cy="583.3" r="4.5"/>
<text class="t" x="1187" y="595.7">microtubule cytoskeleton organisation</text><circle class="c20" cx="1199" cy="593" r="4.5"/>
<text class="t" x="1187" y="605">post-translational protein modification</text><circle class="c23" cx="1199" cy="602.3" r="4.5"/>
<text class="t" x="1187" y="626.4">chromatin binding</text><circle class="c20" cx="1199" cy="623.7" r="4.5"/>
<text class="t" x="1187" y="636">receptor binding</text><circle class="c20" cx="1199" cy="633.3" r="4.5"/>
<text class="t" x="1187" y="645">DNA binding</text><circle class="c20" cx="1199" cy="642.3" r="4.5"/>
<text class="t" x="1187" y="655">nuclear heterochromatin</text><circle class="c22" cx="1199" cy="652.3" r="4.5"/>
<text class="t" x="1187" y="664.4">nuclear chromatin</text><circle class="c23" cx="1199" cy="661.7" r="4.5"/>
</g>

<g id="d-spleen">
<rect class="hbox" x="1243.5" y="530.5" width="183.5" height="26"/>
<text class="hd" x="1296" y="552.5">SPLEEN</text>
<rect class="gcol" x="1221.5" y="557" width="22" height="56"/><rect class="gcol" x="1221.5" y="613" width="22" height="57"/>
<rect class="panel" x="1243.5" y="557" width="183.5" height="113"/>
<use href="#aup" class="up" x="1233" y="568.3"/><use href="#adn" class="dn" x="1233" y="630.5"/>
<text class="t" x="1402" y="566.7">cellular responses to stress</text><circle class="c20" cx="1414" cy="564" r="4.5"/>
<text class="t" x="1402" y="576">regulation of transcription, DNA-templated</text><circle class="c20" cx="1414" cy="573.3" r="4.5"/>
<text class="t" x="1402" y="585.7">gene Expression</text><circle class="c23" cx="1414" cy="583" r="4.5"/>
<text class="t" x="1407" y="626.4">serine hydrolase activity</text><circle class="c18" cx="1414.7" cy="623.7" r="4.5"/>
</g>

<g id="scale-legend">
<circle class="c1" cx="1110" cy="701.7" r="4.5"/><circle class="c2" cx="1120" cy="701.7" r="4.5"/><circle class="c3" cx="1130" cy="701.7" r="4.5"/><circle class="c4" cx="1140" cy="701.7" r="4.5"/><circle class="c5" cx="1150" cy="701.7" r="4.5"/><circle class="c6" cx="1160" cy="701.7" r="4.5"/><circle class="c7" cx="1170" cy="701.7" r="4.5"/><circle class="c8" cx="1180" cy="701.7" r="4.5"/><circle class="c9" cx="1190" cy="701.7" r="4.5"/><circle class="c10" cx="1200" cy="701.7" r="4.5"/><circle class="c11" cx="1210" cy="701.7" r="4.5"/><circle class="c12" cx="1220" cy="701.7" r="4.5"/><circle class="c13" cx="1230" cy="701.7" r="4.5"/><circle class="c14" cx="1240" cy="701.7" r="4.5"/><circle class="c15" cx="1250" cy="701.7" r="4.5"/><circle class="c16" cx="1260" cy="701.7" r="4.5"/><circle class="c17" cx="1270" cy="701.7" r="4.5"/><circle class="c18" cx="1280" cy="701.7" r="4.5"/><circle class="c19" cx="1290" cy="701.7" r="4.5"/><circle class="c20" cx="1300" cy="701.7" r="4.5"/><circle class="c21" cx="1310" cy="701.7" r="4.5"/><circle class="c22" cx="1320" cy="701.7" r="4.5"/><circle class="c23" cx="1330" cy="701.7" r="4.5"/>
<g class="lg" style="text-anchor:middle;font-size:7px">
<text x="1108.3" y="697">&gt;25</text><text x="1138.3" y="697">22</text><text x="1177" y="697">18</text><text x="1215.3" y="697">14</text><text x="1253.3" y="697">10</text><text x="1291.7" y="697">6</text><text x="1330" y="697">2</text>
</g>
<text class="lg" x="1224" y="718.5" style="text-anchor:middle">-log(P-Value)</text>
</g>
<g id="arrow-legend">
<use href="#aup" class="up" x="1139.3" y="725.5"/>
<text class="lg" x="1148" y="741">Up-regulated pathways during ageing</text>
<use href="#adn" class="dn" x="1139.3" y="760"/>
<text class="lg" x="1148" y="775">Down-regulated pathways during ageing</text>
</g>
</svg>
